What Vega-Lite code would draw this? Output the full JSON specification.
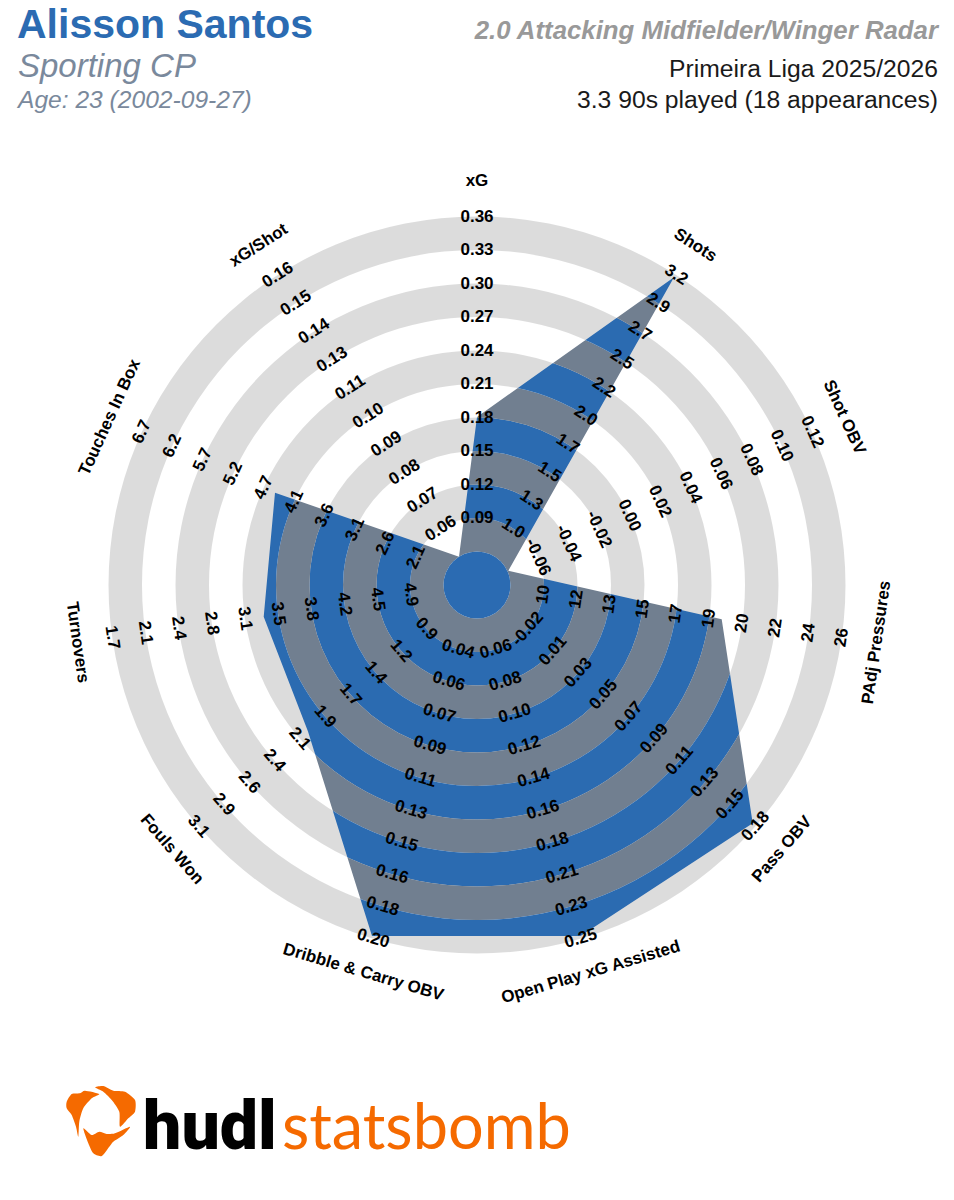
{
  "$schema": "https://vega.github.io/schema/vega-lite/v6.json",
  "description": "Alisson Santos radar",
  "width": 954,
  "height": 1170,
  "padding": 0,
  "autosize": {"type": "none"},
  "background": "white",
  "config": {"view": {"stroke": null}},
  "datasets": {
    "bands": [
      {"r0": 1, "r1": 2, "band": "slate"},
      {"r0": 2, "r1": 3, "band": "blue"},
      {"r0": 3, "r1": 4, "band": "slate"},
      {"r0": 4, "r1": 5, "band": "blue"},
      {"r0": 5, "r1": 6, "band": "slate"},
      {"r0": 6, "r1": 7, "band": "blue"},
      {"r0": 7, "r1": 8, "band": "slate"},
      {"r0": 8, "r1": 9, "band": "blue"},
      {"r0": 9, "r1": 10, "band": "slate"},
      {"r0": 10, "r1": 11, "band": "blue"}
    ],
    "outline": [
      {"seq": 0, "x": 0, "y": 400},
      {"seq": 1, "x": -400, "y": 400},
      {"seq": 2, "x": -400, "y": -400},
      {"seq": 3, "x": 400, "y": -400},
      {"seq": 4, "x": 400, "y": 400},
      {"seq": 5, "x": 0, "y": 400},
      {"seq": 6, "metric": "xG", "x": 0, "y": 168},
      {"seq": 7, "metric": "Shots", "x": 197, "y": 307.7},
      {"seq": 8, "metric": "Shot OBV", "x": 31.3, "y": 14.3},
      {"seq": 9, "metric": "PAdj Pressures", "x": 244.7, "y": -34.3},
      {"seq": 10, "metric": "Pass OBV", "x": 275.7, "y": -238.3},
      {"seq": 11, "metric": "Open Play xG Assisted", "x": 103.5, "y": -351},
      {"seq": 12, "metric": "Dribble & Carry OBV", "x": -105, "y": -351},
      {"seq": 13, "metric": "Fouls Won", "x": -169, "y": -146.5},
      {"seq": 14, "metric": "Turnovers", "x": -213.3, "y": -31.7},
      {"seq": 15, "metric": "Touches In Box", "x": -202, "y": 92.3},
      {"seq": 16, "metric": "xG/Shot", "x": -18, "y": 28.3},
      {"seq": 17, "metric": "xG", "x": 0, "y": 168},
      {"seq": 18, "x": 0, "y": 400}
    ],
    "names": [
      {"i": 0, "k": 12.05, "label": "xG"},
      {"i": 1, "k": 12.05, "label": "Shots"},
      {"i": 2, "k": 12.05, "label": "Shot OBV"},
      {"i": 3, "k": 12.05, "label": "PAdj Pressures"},
      {"i": 4, "k": 12.05, "label": "Pass OBV"},
      {"i": 5, "k": 12.05, "label": "Open Play xG Assisted"},
      {"i": 6, "k": 12.05, "label": "Dribble & Carry OBV"},
      {"i": 7, "k": 12.05, "label": "Fouls Won"},
      {"i": 8, "k": 12.05, "label": "Turnovers"},
      {"i": 9, "k": 12.05, "label": "Touches In Box"},
      {"i": 10, "k": 12.05, "label": "xG/Shot"}
    ],
    "ticks": [
      {"i":0,"k":2,"label":"0.09"},{"i":0,"k":3,"label":"0.12"},{"i":0,"k":4,"label":"0.15"},{"i":0,"k":5,"label":"0.18"},{"i":0,"k":6,"label":"0.21"},{"i":0,"k":7,"label":"0.24"},{"i":0,"k":8,"label":"0.27"},{"i":0,"k":9,"label":"0.30"},{"i":0,"k":10,"label":"0.33"},{"i":0,"k":11,"label":"0.36"},
      {"i":1,"k":2,"label":"1.0"},{"i":1,"k":3,"label":"1.3"},{"i":1,"k":4,"label":"1.5"},{"i":1,"k":5,"label":"1.7"},{"i":1,"k":6,"label":"2.0"},{"i":1,"k":7,"label":"2.2"},{"i":1,"k":8,"label":"2.5"},{"i":1,"k":9,"label":"2.7"},{"i":1,"k":10,"label":"2.9"},{"i":1,"k":11,"label":"3.2"},
      {"i":2,"k":2,"label":"-0.06"},{"i":2,"k":3,"label":"-0.04"},{"i":2,"k":4,"label":"-0.02"},{"i":2,"k":5,"label":"0.00"},{"i":2,"k":6,"label":"0.02"},{"i":2,"k":7,"label":"0.04"},{"i":2,"k":8,"label":"0.06"},{"i":2,"k":9,"label":"0.08"},{"i":2,"k":10,"label":"0.10"},{"i":2,"k":11,"label":"0.12"},
      {"i":3,"k":2,"label":"10"},{"i":3,"k":3,"label":"12"},{"i":3,"k":4,"label":"13"},{"i":3,"k":5,"label":"15"},{"i":3,"k":6,"label":"17"},{"i":3,"k":7,"label":"19"},{"i":3,"k":8,"label":"20"},{"i":3,"k":9,"label":"22"},{"i":3,"k":10,"label":"24"},{"i":3,"k":11,"label":"26"},
      {"i":4,"k":2,"label":"-0.02"},{"i":4,"k":3,"label":"0.01"},{"i":4,"k":4,"label":"0.03"},{"i":4,"k":5,"label":"0.05"},{"i":4,"k":6,"label":"0.07"},{"i":4,"k":7,"label":"0.09"},{"i":4,"k":8,"label":"0.11"},{"i":4,"k":9,"label":"0.13"},{"i":4,"k":10,"label":"0.15"},{"i":4,"k":11,"label":"0.18"},
      {"i":5,"k":2,"label":"0.06"},{"i":5,"k":3,"label":"0.08"},{"i":5,"k":4,"label":"0.10"},{"i":5,"k":5,"label":"0.12"},{"i":5,"k":6,"label":"0.14"},{"i":5,"k":7,"label":"0.16"},{"i":5,"k":8,"label":"0.18"},{"i":5,"k":9,"label":"0.21"},{"i":5,"k":10,"label":"0.23"},{"i":5,"k":11,"label":"0.25"},
      {"i":6,"k":2,"label":"0.04"},{"i":6,"k":3,"label":"0.06"},{"i":6,"k":4,"label":"0.07"},{"i":6,"k":5,"label":"0.09"},{"i":6,"k":6,"label":"0.11"},{"i":6,"k":7,"label":"0.13"},{"i":6,"k":8,"label":"0.15"},{"i":6,"k":9,"label":"0.16"},{"i":6,"k":10,"label":"0.18"},{"i":6,"k":11,"label":"0.20"},
      {"i":7,"k":2,"label":"0.9"},{"i":7,"k":3,"label":"1.2"},{"i":7,"k":4,"label":"1.4"},{"i":7,"k":5,"label":"1.7"},{"i":7,"k":6,"label":"1.9"},{"i":7,"k":7,"label":"2.1"},{"i":7,"k":8,"label":"2.4"},{"i":7,"k":9,"label":"2.6"},{"i":7,"k":10,"label":"2.9"},{"i":7,"k":11,"label":"3.1"},
      {"i":8,"k":2,"label":"4.9"},{"i":8,"k":3,"label":"4.5"},{"i":8,"k":4,"label":"4.2"},{"i":8,"k":5,"label":"3.8"},{"i":8,"k":6,"label":"3.5"},{"i":8,"k":7,"label":"3.1"},{"i":8,"k":8,"label":"2.8"},{"i":8,"k":9,"label":"2.4"},{"i":8,"k":10,"label":"2.1"},{"i":8,"k":11,"label":"1.7"},
      {"i":9,"k":2,"label":"2.1"},{"i":9,"k":3,"label":"2.6"},{"i":9,"k":4,"label":"3.1"},{"i":9,"k":5,"label":"3.6"},{"i":9,"k":6,"label":"4.1"},{"i":9,"k":7,"label":"4.7"},{"i":9,"k":8,"label":"5.2"},{"i":9,"k":9,"label":"5.7"},{"i":9,"k":10,"label":"6.2"},{"i":9,"k":11,"label":"6.7"},
      {"i":10,"k":2,"label":"0.06"},{"i":10,"k":3,"label":"0.07"},{"i":10,"k":4,"label":"0.08"},{"i":10,"k":5,"label":"0.09"},{"i":10,"k":6,"label":"0.10"},{"i":10,"k":7,"label":"0.11"},{"i":10,"k":8,"label":"0.13"},{"i":10,"k":9,"label":"0.14"},{"i":10,"k":10,"label":"0.15"},{"i":10,"k":11,"label":"0.16"}
    ],
    "logo": [
      {"piece":"a","seq":0,"x":-410.3,"y":-516.7},{"piece":"a","seq":1,"x":-405.3,"y":-509},{"piece":"a","seq":2,"x":-397,"y":-508.3},{"piece":"a","seq":3,"x":-392,"y":-505.7},{"piece":"a","seq":4,"x":-377.7,"y":-509},{"piece":"a","seq":5,"x":-385.3,"y":-513.3},{"piece":"a","seq":6,"x":-393.7,"y":-523.3},{"piece":"a","seq":7,"x":-397.7,"y":-536.7},{"piece":"a","seq":8,"x":-398.7,"y":-551.7},{"piece":"a","seq":9,"x":-401,"y":-541.7},{"piece":"a","seq":10,"x":-405.3,"y":-530},{"piece":"a","seq":11,"x":-410.3,"y":-523.3},
      {"piece":"b","seq":0,"x":-382,"y":-502.3},{"piece":"b","seq":1,"x":-373.7,"y":-501},{"piece":"b","seq":2,"x":-363.7,"y":-505.7},{"piece":"b","seq":3,"x":-352,"y":-506.7},{"piece":"b","seq":4,"x":-342,"y":-515},{"piece":"b","seq":5,"x":-342,"y":-526.7},{"piece":"b","seq":6,"x":-348.7,"y":-533.3},{"piece":"b","seq":7,"x":-357,"y":-541.7},{"piece":"b","seq":8,"x":-357.7,"y":-526.7},{"piece":"b","seq":9,"x":-365.3,"y":-515},{"piece":"b","seq":10,"x":-373.7,"y":-506.7},
      {"piece":"c","seq":0,"x":-393.7,"y":-543.3},{"piece":"c","seq":1,"x":-385.3,"y":-550},{"piece":"c","seq":2,"x":-377.7,"y":-546.7},{"piece":"c","seq":3,"x":-370.3,"y":-549},{"piece":"c","seq":4,"x":-362,"y":-548.3},{"piece":"c","seq":5,"x":-347,"y":-541.7},{"piece":"c","seq":6,"x":-353.7,"y":-550},{"piece":"c","seq":7,"x":-363.7,"y":-556.7},{"piece":"c","seq":8,"x":-367.7,"y":-561.7},{"piece":"c","seq":9,"x":-375.3,"y":-571},{"piece":"c","seq":10,"x":-383.7,"y":-568.3},{"piece":"c","seq":11,"x":-388.7,"y":-558.3}
    ]
  },
  "layer": [
    {
      "data": {"name": "bands"},
      "mark": {"type": "arc", "theta": 0, "theta2": 6.2832},
      "encoding": {
        "radius": {"field": "r0", "type": "quantitative", "scale": {"type": "linear", "domain": [0, 12], "range": [0, 402]}},
        "radius2": {"field": "r1"},
        "color": {"field": "band", "type": "nominal", "legend": null, "scale": {"domain": ["slate", "blue"], "range": ["#717F90", "#327CCE"]}}
      }
    },
    {
      "data": {"name": "outline"},
      "mark": {"type": "line", "fill": "white", "strokeWidth": 0, "interpolate": "linear"},
      "encoding": {
        "x": {"field": "x", "type": "quantitative", "axis": null, "scale": {"domain": [-477, 477], "nice": false, "zero": false}},
        "y": {"field": "y", "type": "quantitative", "axis": null, "scale": {"domain": [-585, 585], "nice": false, "zero": false}},
        "order": {"field": "seq"}
      }
    },
    {
      "data": {"name": "bands"},
      "transform": [{"filter": "datum.band === 'blue'"}],
      "mark": {"type": "arc", "theta": 0, "theta2": 6.2832, "fill": "black", "fillOpacity": 0.137},
      "encoding": {
        "radius": {"field": "r0", "type": "quantitative"},
        "radius2": {"field": "r1"}
      }
    },
    {
      "data": {"values": [{"r0": 0, "r1": 1}]},
      "mark": {"type": "arc", "theta": 0, "theta2": 6.2832, "fill": "#2B6BB2"},
      "encoding": {
        "radius": {"field": "r0", "type": "quantitative"},
        "radius2": {"field": "r1"}
      }
    },
    {
      "encoding": {
        "theta": {"field": "i", "type": "quantitative", "stack": null, "scale": {"type": "linear", "domain": [0, 11], "range": [0, 6.283185]}},
        "radius": {"field": "k", "type": "quantitative"},
        "angle": {"field": "i", "type": "quantitative", "scale": {"type": "linear", "domain": [0,1,2,3,4,5,6,7,8,9,10], "range": [0,32.7,65.5,-81.8,-49.1,-16.4,16.4,49.1,81.8,-65.5,-32.7]}},
        "text": {"field": "label"}
      },
      "layer": [
        {
          "data": {"name": "ticks"},
          "mark": {"type": "text", "font": "Liberation Sans", "fontWeight": "bold", "fontSize": 17, "color": "black", "align": "center", "baseline": "middle"}
        },
        {
          "data": {"name": "names"},
          "mark": {"type": "text", "font": "Liberation Sans", "fontWeight": "bold", "fontSize": 17, "color": "black", "align": "center", "baseline": "middle"}
        }
      ]
    },
    {
      "data": {"name": "logo"},
      "mark": {"type": "line", "fill": "#F56A00", "strokeWidth": 0, "interpolate": "cardinal-closed", "tension": 0.3},
      "encoding": {
        "x": {"field": "x", "type": "quantitative"},
        "y": {"field": "y", "type": "quantitative"},
        "detail": {"field": "piece"},
        "order": {"field": "seq"}
      }
    },
    {
      "encoding": {
        "x": {"field": "x", "type": "quantitative"},
        "y": {"field": "y", "type": "quantitative"},
        "text": {"field": "t"}
      },
      "layer": [
        {
          "data": {"values": [{"t": "Alisson Santos", "x": -460, "y": 547}]},
          "mark": {"type": "text", "font": "Liberation Sans", "fontWeight": "bold", "fontSize": 41, "color": "#2B6BB2", "align": "left", "baseline": "alphabetic"}
        },
        {
          "data": {"values": [{"t": "Sporting CP", "x": -459, "y": 508}]},
          "mark": {"type": "text", "font": "Liberation Sans", "fontStyle": "italic", "fontSize": 33, "color": "#7A899C", "align": "left", "baseline": "alphabetic"}
        },
        {
          "data": {"values": [{"t": "Age: 23 (2002-09-27)", "x": -459, "y": 477}]},
          "mark": {"type": "text", "font": "Liberation Sans", "fontStyle": "italic", "fontSize": 24.6, "color": "#7A899C", "align": "left", "baseline": "alphabetic"}
        },
        {
          "data": {"values": [{"t": "2.0 Attacking Midfielder/Winger Radar", "x": 461, "y": 546}]},
          "mark": {"type": "text", "font": "Liberation Sans", "fontWeight": "bold", "fontStyle": "italic", "fontSize": 25.8, "color": "#999999", "align": "right", "baseline": "alphabetic"}
        },
        {
          "data": {"values": [{"t": "Primeira Liga 2025/2026", "x": 461, "y": 508}]},
          "mark": {"type": "text", "font": "Liberation Sans", "fontSize": 24.7, "color": "#1a1a1a", "align": "right", "baseline": "alphabetic"}
        },
        {
          "data": {"values": [{"t": "3.3 90s played (18 appearances)", "x": 461, "y": 477}]},
          "mark": {"type": "text", "font": "Liberation Sans", "fontSize": 24.7, "color": "#1a1a1a", "align": "right", "baseline": "alphabetic"}
        },
        {
          "data": {"values": [{"t": "hudl", "x": -334, "y": -564}]},
          "mark": {"type": "text", "font": "Roboto", "fontWeight": 900, "fontSize": 68, "color": "black", "align": "left", "baseline": "alphabetic"}
        },
        {
          "data": {"values": [{"t": "statsbomb", "x": -195, "y": -564}]},
          "mark": {"type": "text", "font": "Lato", "fontSize": 63, "color": "#F56A00", "align": "left", "baseline": "alphabetic"}
        }
      ]
    }
  ]
}
